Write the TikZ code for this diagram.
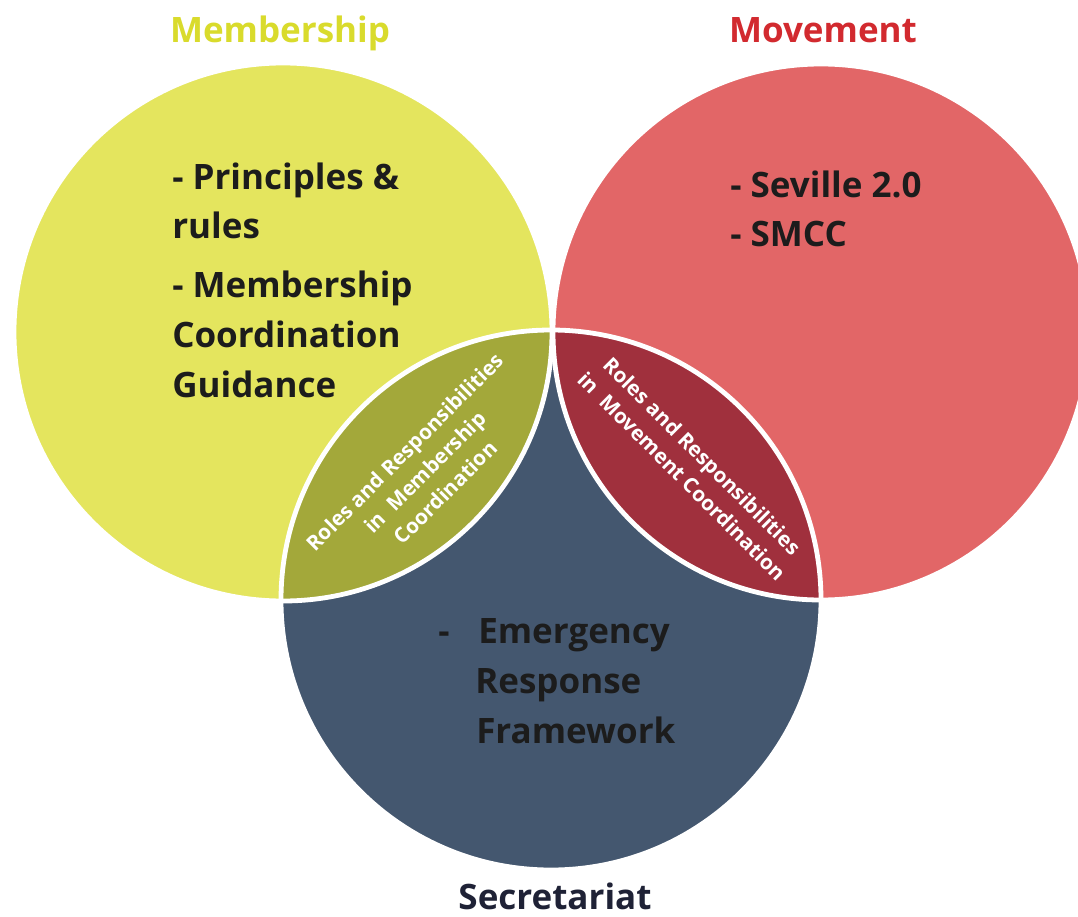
\documentclass[tikz,border=0pt]{standalone}
\usepackage{fontspec}
\setmainfont{Open Sans}
\begin{document}
\begin{tikzpicture}[x=0.75pt,y=-0.75pt,
  big/.style={font=\bfseries\fontsize{26.25}{30}\selectfont, inner sep=0pt, anchor=base west, text=tdark},
  title/.style={font=\bfseries\fontsize{26.25}{30}\selectfont, inner sep=0pt, anchor=base},
  lens/.style={font=\bfseries\fontsize{15.6}{21.5}\selectfont, text=white, align=center, inner sep=0pt},
  rim/.style={draw=white, line width=3.6pt}]
\definecolor{cyel}{HTML}{E4E55E}
\definecolor{cred}{HTML}{E26667}
\definecolor{cblue}{HTML}{44576F}
\definecolor{colive}{HTML}{A3A83A}
\definecolor{cdred}{HTML}{A0303D}
\definecolor{tyel}{HTML}{D9DB2C}
\definecolor{tred}{HTML}{D22A2F}
\definecolor{tdark}{HTML}{1C1C1C}
\definecolor{tnavy}{HTML}{1F2236}
\useasboundingbox (0,0) rectangle (1078,917);
\fill[white] (0,0) rectangle (1078,917);
% circles
\fill[cyel] (283,332) circle[radius=201.75pt];
\fill[cred] (821,332) circle[radius=201pt];
\fill[cblue] (551,600) circle[radius=202.5pt];
% lenses
\begin{scope}
  \clip (283,332) circle[radius=201.75pt];
  \fill[colive] (551,600) circle[radius=202.5pt];
\end{scope}
\begin{scope}
  \clip (821,332) circle[radius=201pt];
  \fill[cdred] (551,600) circle[radius=202.5pt];
\end{scope}
% white rims
\draw[rim] (283,332) circle[radius=201.75pt];
\draw[rim] (821,332) circle[radius=201pt];
\draw[rim] (551,600) circle[radius=202.5pt];
\clip (0,0) rectangle (1078,917);
% titles
\node[title, text=tyel] (tmem) at (280,43) {Membership};
\node[title, text=tred] (tmov) at (823,43) {Movement};
\node[title, text=tnavy] (tsec) at (555,909) {Secretariat};
% membership text
\node[big] (m1) at (172,189) {- Principles \&};
\node[big] (m2) at (172,238) {rules};
\node[big] (m3) at (172,297) {- Membership};
\node[big] (m4) at (172,347) {Coordination};
\node[big] (m5) at (172,397) {Guidance};
% movement text
\node[big] (v1) at (730,197) {- Seville 2.0};
\node[big] (v2) at (730,246) {- SMCC};
% secretariat text
\node[big] (s0) at (438,643) {-};
\node[big] (s1) at (478,643) {Emergency};
\node[big] (s2) at (475,693) {Response};
\node[big] (s3) at (476,743) {Framework};
% lens text
\node[lens, rotate=45] (lm) at (425,472) {Roles and Responsibilities\\in~~Membership\\Coordination};
\node[lens, rotate=-45] (lv) at (692,466) {Roles and Responsibilities\\in~~Movement Coordination};
\end{tikzpicture}
\end{document}
